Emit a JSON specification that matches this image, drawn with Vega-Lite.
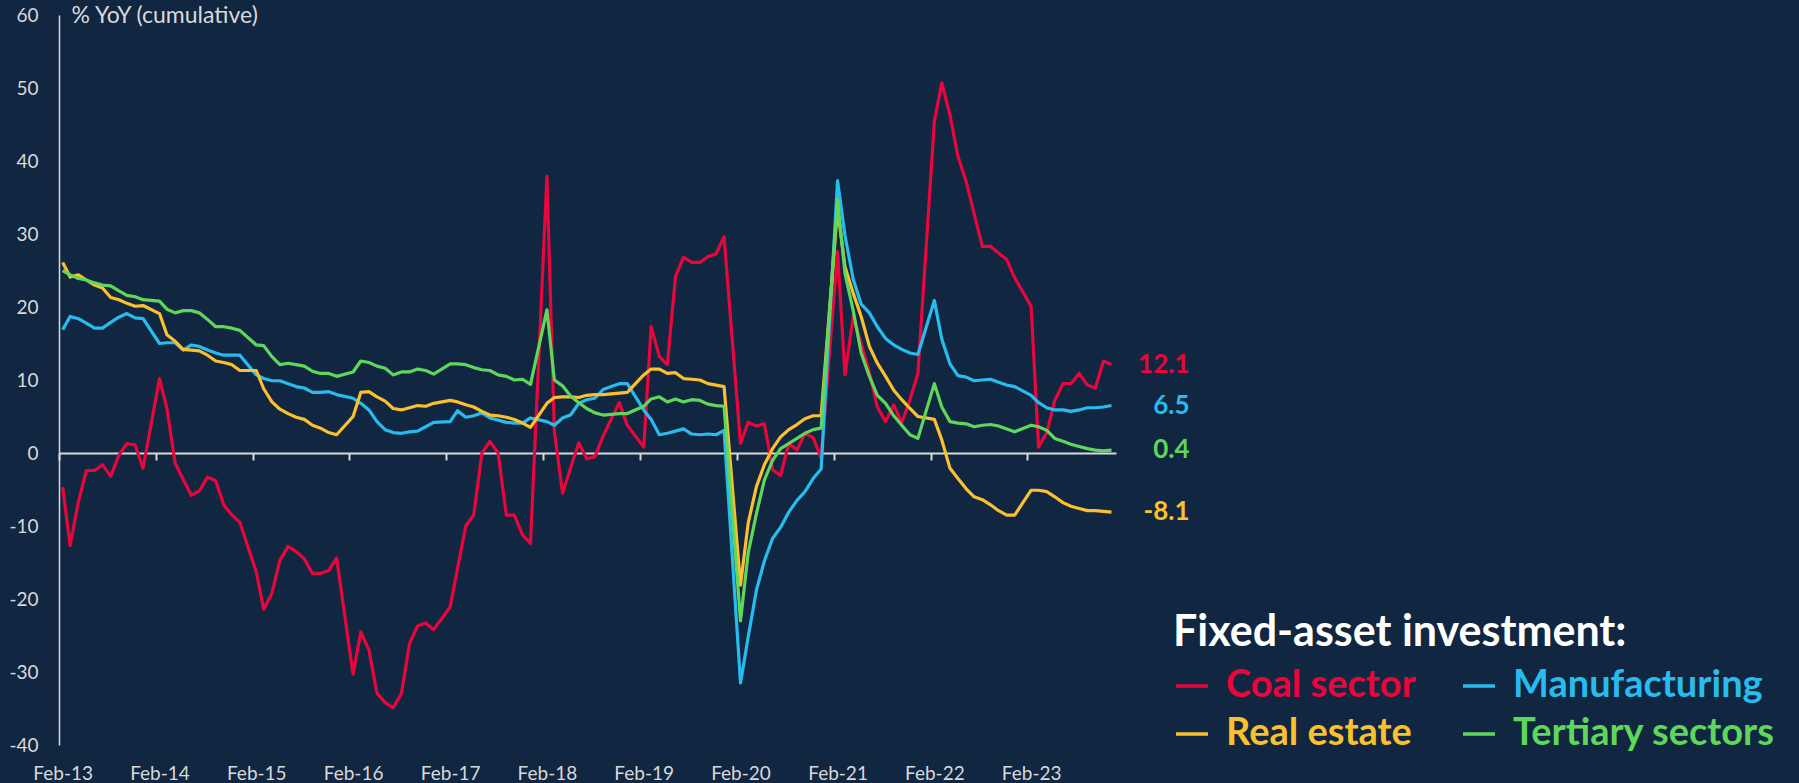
{
  "$schema": "https://vega.github.io/schema/vega-lite/v6.json",
  "width": 1057,
  "height": 730,
  "autosize": {"type": "none"},
  "padding": {"left": 59, "top": 15, "right": 683, "bottom": 38},
  "background": "#112640",
  "config": {"view": {"stroke": null}, "font": "Lato"},
  "data": {"values": [
    {"date": "2013-02-15", "Coal sector": -4.7, "Manufacturing": 16.9, "Real estate": 26.1, "Tertiary sectors": 25.0},
    {"date": "2013-03-15", "Coal sector": -12.7, "Manufacturing": 18.7, "Real estate": 24.1, "Tertiary sectors": 24.4},
    {"date": "2013-04-15", "Coal sector": -6.7, "Manufacturing": 18.4, "Real estate": 24.4, "Tertiary sectors": 23.9},
    {"date": "2013-05-15", "Coal sector": -2.4, "Manufacturing": 17.8, "Real estate": 23.7, "Tertiary sectors": 23.7},
    {"date": "2013-06-15", "Coal sector": -2.4, "Manufacturing": 17.1, "Real estate": 23.0, "Tertiary sectors": 23.3},
    {"date": "2013-07-15", "Coal sector": -1.6, "Manufacturing": 17.1, "Real estate": 22.6, "Tertiary sectors": 23.0},
    {"date": "2013-08-15", "Coal sector": -3.2, "Manufacturing": 17.9, "Real estate": 21.3, "Tertiary sectors": 22.9},
    {"date": "2013-09-15", "Coal sector": -0.3, "Manufacturing": 18.6, "Real estate": 21.0, "Tertiary sectors": 22.2},
    {"date": "2013-10-15", "Coal sector": 1.3, "Manufacturing": 19.1, "Real estate": 20.5, "Tertiary sectors": 21.6},
    {"date": "2013-11-15", "Coal sector": 1.1, "Manufacturing": 18.5, "Real estate": 20.1, "Tertiary sectors": 21.4},
    {"date": "2013-12-15", "Coal sector": -2.1, "Manufacturing": 18.4, "Real estate": 20.2, "Tertiary sectors": 21.0},
    {"date": "2014-02-15", "Coal sector": 10.2, "Manufacturing": 15.0, "Real estate": 19.1, "Tertiary sectors": 20.8},
    {"date": "2014-03-15", "Coal sector": 6.1, "Manufacturing": 15.1, "Real estate": 16.2, "Tertiary sectors": 19.7},
    {"date": "2014-04-15", "Coal sector": -1.4, "Manufacturing": 15.1, "Real estate": 15.3, "Tertiary sectors": 19.2},
    {"date": "2014-05-15", "Coal sector": -3.6, "Manufacturing": 14.1, "Real estate": 14.2, "Tertiary sectors": 19.5},
    {"date": "2014-06-15", "Coal sector": -5.8, "Manufacturing": 14.8, "Real estate": 14.1, "Tertiary sectors": 19.5},
    {"date": "2014-07-15", "Coal sector": -5.2, "Manufacturing": 14.6, "Real estate": 14.0, "Tertiary sectors": 19.2},
    {"date": "2014-08-15", "Coal sector": -3.3, "Manufacturing": 14.1, "Real estate": 13.4, "Tertiary sectors": 18.3},
    {"date": "2014-09-15", "Coal sector": -3.8, "Manufacturing": 13.7, "Real estate": 12.6, "Tertiary sectors": 17.3},
    {"date": "2014-10-15", "Coal sector": -7.1, "Manufacturing": 13.4, "Real estate": 12.4, "Tertiary sectors": 17.3},
    {"date": "2014-11-15", "Coal sector": -8.5, "Manufacturing": 13.4, "Real estate": 12.1, "Tertiary sectors": 17.1},
    {"date": "2014-12-15", "Coal sector": -9.5, "Manufacturing": 13.4, "Real estate": 11.3, "Tertiary sectors": 16.8},
    {"date": "2015-02-15", "Coal sector": -16.3, "Manufacturing": 10.7, "Real estate": 11.3, "Tertiary sectors": 14.8},
    {"date": "2015-03-15", "Coal sector": -21.4, "Manufacturing": 10.2, "Real estate": 8.8, "Tertiary sectors": 14.7},
    {"date": "2015-04-15", "Coal sector": -19.2, "Manufacturing": 9.9, "Real estate": 7.0, "Tertiary sectors": 13.2},
    {"date": "2015-05-15", "Coal sector": -14.7, "Manufacturing": 9.9, "Real estate": 6.0, "Tertiary sectors": 12.1},
    {"date": "2015-06-15", "Coal sector": -12.8, "Manufacturing": 9.5, "Real estate": 5.4, "Tertiary sectors": 12.3},
    {"date": "2015-07-15", "Coal sector": -13.5, "Manufacturing": 9.1, "Real estate": 4.9, "Tertiary sectors": 12.1},
    {"date": "2015-08-15", "Coal sector": -14.5, "Manufacturing": 8.9, "Real estate": 4.6, "Tertiary sectors": 11.9},
    {"date": "2015-09-15", "Coal sector": -16.5, "Manufacturing": 8.3, "Real estate": 3.8, "Tertiary sectors": 11.2},
    {"date": "2015-10-15", "Coal sector": -16.5, "Manufacturing": 8.3, "Real estate": 3.4, "Tertiary sectors": 10.9},
    {"date": "2015-11-15", "Coal sector": -16.1, "Manufacturing": 8.4, "Real estate": 2.8, "Tertiary sectors": 10.9},
    {"date": "2015-12-15", "Coal sector": -14.4, "Manufacturing": 8.0, "Real estate": 2.5, "Tertiary sectors": 10.5},
    {"date": "2016-02-15", "Coal sector": -30.3, "Manufacturing": 7.5, "Real estate": 5.0, "Tertiary sectors": 11.1},
    {"date": "2016-03-15", "Coal sector": -24.5, "Manufacturing": 6.8, "Real estate": 8.3, "Tertiary sectors": 12.6},
    {"date": "2016-04-15", "Coal sector": -27.0, "Manufacturing": 5.9, "Real estate": 8.4, "Tertiary sectors": 12.4},
    {"date": "2016-05-15", "Coal sector": -32.9, "Manufacturing": 4.3, "Real estate": 7.7, "Tertiary sectors": 11.9},
    {"date": "2016-06-15", "Coal sector": -34.2, "Manufacturing": 3.2, "Real estate": 7.1, "Tertiary sectors": 11.6},
    {"date": "2016-07-15", "Coal sector": -34.9, "Manufacturing": 2.8, "Real estate": 6.1, "Tertiary sectors": 10.7},
    {"date": "2016-08-15", "Coal sector": -33.0, "Manufacturing": 2.7, "Real estate": 5.9, "Tertiary sectors": 11.1},
    {"date": "2016-09-15", "Coal sector": -26.1, "Manufacturing": 2.9, "Real estate": 6.2, "Tertiary sectors": 11.1},
    {"date": "2016-10-15", "Coal sector": -23.7, "Manufacturing": 3.0, "Real estate": 6.5, "Tertiary sectors": 11.5},
    {"date": "2016-11-15", "Coal sector": -23.3, "Manufacturing": 3.6, "Real estate": 6.4, "Tertiary sectors": 11.3},
    {"date": "2016-12-15", "Coal sector": -24.2, "Manufacturing": 4.2, "Real estate": 6.8, "Tertiary sectors": 10.8},
    {"date": "2017-02-15", "Coal sector": -21.1, "Manufacturing": 4.3, "Real estate": 7.2, "Tertiary sectors": 12.2},
    {"date": "2017-03-15", "Coal sector": -15.8, "Manufacturing": 5.8, "Real estate": 7.0, "Tertiary sectors": 12.2},
    {"date": "2017-04-15", "Coal sector": -10.0, "Manufacturing": 4.9, "Real estate": 6.6, "Tertiary sectors": 12.1},
    {"date": "2017-05-15", "Coal sector": -8.5, "Manufacturing": 5.1, "Real estate": 6.3, "Tertiary sectors": 11.7},
    {"date": "2017-06-15", "Coal sector": 0.0, "Manufacturing": 5.5, "Real estate": 5.7, "Tertiary sectors": 11.4},
    {"date": "2017-07-15", "Coal sector": 1.6, "Manufacturing": 4.8, "Real estate": 5.2, "Tertiary sectors": 11.3},
    {"date": "2017-08-15", "Coal sector": 0.0, "Manufacturing": 4.5, "Real estate": 5.1, "Tertiary sectors": 10.7},
    {"date": "2017-09-15", "Coal sector": -8.5, "Manufacturing": 4.2, "Real estate": 4.9, "Tertiary sectors": 10.5},
    {"date": "2017-10-15", "Coal sector": -8.5, "Manufacturing": 4.1, "Real estate": 4.6, "Tertiary sectors": 10.0},
    {"date": "2017-11-15", "Coal sector": -11.2, "Manufacturing": 4.1, "Real estate": 4.1, "Tertiary sectors": 10.1},
    {"date": "2017-12-15", "Coal sector": -12.4, "Manufacturing": 4.8, "Real estate": 3.5, "Tertiary sectors": 9.4},
    {"date": "2018-02-15", "Coal sector": 37.9, "Manufacturing": 4.3, "Real estate": 6.8, "Tertiary sectors": 19.6},
    {"date": "2018-03-15", "Coal sector": 3.0, "Manufacturing": 3.8, "Real estate": 7.6, "Tertiary sectors": 10.0},
    {"date": "2018-04-15", "Coal sector": -5.5, "Manufacturing": 4.8, "Real estate": 7.7, "Tertiary sectors": 9.2},
    {"date": "2018-05-15", "Coal sector": -2.1, "Manufacturing": 5.2, "Real estate": 7.7, "Tertiary sectors": 7.8},
    {"date": "2018-06-15", "Coal sector": 1.4, "Manufacturing": 6.8, "Real estate": 7.6, "Tertiary sectors": 6.9},
    {"date": "2018-07-15", "Coal sector": -0.8, "Manufacturing": 7.3, "Real estate": 7.9, "Tertiary sectors": 6.1},
    {"date": "2018-08-15", "Coal sector": -0.5, "Manufacturing": 7.5, "Real estate": 8.0, "Tertiary sectors": 5.5},
    {"date": "2018-09-15", "Coal sector": 2.3, "Manufacturing": 8.7, "Real estate": 8.0, "Tertiary sectors": 5.2},
    {"date": "2018-10-15", "Coal sector": 4.6, "Manufacturing": 9.1, "Real estate": 8.1, "Tertiary sectors": 5.3},
    {"date": "2018-11-15", "Coal sector": 6.9, "Manufacturing": 9.5, "Real estate": 8.2, "Tertiary sectors": 5.4},
    {"date": "2018-12-15", "Coal sector": 3.8, "Manufacturing": 9.5, "Real estate": 8.3, "Tertiary sectors": 5.4},
    {"date": "2019-02-15", "Coal sector": 0.8, "Manufacturing": 5.9, "Real estate": 10.7, "Tertiary sectors": 6.4},
    {"date": "2019-03-15", "Coal sector": 17.3, "Manufacturing": 4.6, "Real estate": 11.5, "Tertiary sectors": 7.4},
    {"date": "2019-04-15", "Coal sector": 13.2, "Manufacturing": 2.5, "Real estate": 11.5, "Tertiary sectors": 7.7},
    {"date": "2019-05-15", "Coal sector": 12.1, "Manufacturing": 2.7, "Real estate": 10.9, "Tertiary sectors": 7.0},
    {"date": "2019-06-15", "Coal sector": 24.2, "Manufacturing": 3.0, "Real estate": 11.0, "Tertiary sectors": 7.4},
    {"date": "2019-07-15", "Coal sector": 26.8, "Manufacturing": 3.3, "Real estate": 10.2, "Tertiary sectors": 7.0},
    {"date": "2019-08-15", "Coal sector": 26.1, "Manufacturing": 2.6, "Real estate": 10.1, "Tertiary sectors": 7.3},
    {"date": "2019-09-15", "Coal sector": 26.1, "Manufacturing": 2.5, "Real estate": 10.0, "Tertiary sectors": 7.2},
    {"date": "2019-10-15", "Coal sector": 26.9, "Manufacturing": 2.6, "Real estate": 9.5, "Tertiary sectors": 6.7},
    {"date": "2019-11-15", "Coal sector": 27.3, "Manufacturing": 2.5, "Real estate": 9.3, "Tertiary sectors": 6.5},
    {"date": "2019-12-15", "Coal sector": 29.6, "Manufacturing": 3.1, "Real estate": 9.1, "Tertiary sectors": 6.4},
    {"date": "2020-02-15", "Coal sector": 1.3, "Manufacturing": -31.5, "Real estate": -18.1, "Tertiary sectors": -23.0},
    {"date": "2020-03-15", "Coal sector": 4.2, "Manufacturing": -25.2, "Real estate": -9.6, "Tertiary sectors": -13.7},
    {"date": "2020-04-15", "Coal sector": 3.7, "Manufacturing": -18.8, "Real estate": -4.6, "Tertiary sectors": -8.3},
    {"date": "2020-05-15", "Coal sector": 4.0, "Manufacturing": -14.8, "Real estate": -1.6, "Tertiary sectors": -3.7},
    {"date": "2020-06-15", "Coal sector": -2.3, "Manufacturing": -11.7, "Real estate": 0.6, "Tertiary sectors": -1.0},
    {"date": "2020-07-15", "Coal sector": -3.1, "Manufacturing": -10.2, "Real estate": 2.2, "Tertiary sectors": 0.6},
    {"date": "2020-08-15", "Coal sector": 1.3, "Manufacturing": -8.1, "Real estate": 3.2, "Tertiary sectors": 1.3},
    {"date": "2020-09-15", "Coal sector": 0.4, "Manufacturing": -6.5, "Real estate": 3.9, "Tertiary sectors": 2.0},
    {"date": "2020-10-15", "Coal sector": 2.7, "Manufacturing": -5.3, "Real estate": 4.7, "Tertiary sectors": 2.7},
    {"date": "2020-11-15", "Coal sector": 2.1, "Manufacturing": -3.5, "Real estate": 5.1, "Tertiary sectors": 3.2},
    {"date": "2020-12-15", "Coal sector": -0.7, "Manufacturing": -2.2, "Real estate": 5.1, "Tertiary sectors": 3.4},
    {"date": "2021-02-15", "Coal sector": 27.6, "Manufacturing": 37.3, "Real estate": 33.5, "Tertiary sectors": 34.7},
    {"date": "2021-03-15", "Coal sector": 10.7, "Manufacturing": 29.8, "Real estate": 25.5, "Tertiary sectors": 24.6},
    {"date": "2021-04-15", "Coal sector": 18.7, "Manufacturing": 23.8, "Real estate": 21.9, "Tertiary sectors": 19.5},
    {"date": "2021-05-15", "Coal sector": 15.0, "Manufacturing": 20.4, "Real estate": 18.7, "Tertiary sectors": 13.7},
    {"date": "2021-06-15", "Coal sector": 11.0, "Manufacturing": 19.2, "Real estate": 14.6, "Tertiary sectors": 10.5},
    {"date": "2021-07-15", "Coal sector": 6.3, "Manufacturing": 17.3, "Real estate": 12.3, "Tertiary sectors": 7.9},
    {"date": "2021-08-15", "Coal sector": 4.3, "Manufacturing": 15.7, "Real estate": 10.5, "Tertiary sectors": 6.8},
    {"date": "2021-09-15", "Coal sector": 6.6, "Manufacturing": 14.8, "Real estate": 8.6, "Tertiary sectors": 5.1},
    {"date": "2021-10-15", "Coal sector": 4.1, "Manufacturing": 14.2, "Real estate": 7.3, "Tertiary sectors": 3.8},
    {"date": "2021-11-15", "Coal sector": 7.3, "Manufacturing": 13.7, "Real estate": 6.1, "Tertiary sectors": 2.5},
    {"date": "2021-12-15", "Coal sector": 10.9, "Manufacturing": 13.5, "Real estate": 5.0, "Tertiary sectors": 2.0},
    {"date": "2022-02-15", "Coal sector": 45.4, "Manufacturing": 20.9, "Real estate": 4.6, "Tertiary sectors": 9.5},
    {"date": "2022-03-15", "Coal sector": 50.7, "Manufacturing": 15.6, "Real estate": 1.8, "Tertiary sectors": 6.3},
    {"date": "2022-04-15", "Coal sector": 46.3, "Manufacturing": 12.2, "Real estate": -2.1, "Tertiary sectors": 4.3},
    {"date": "2022-05-15", "Coal sector": 40.6, "Manufacturing": 10.6, "Real estate": -3.5, "Tertiary sectors": 4.1},
    {"date": "2022-06-15", "Coal sector": 37.2, "Manufacturing": 10.4, "Real estate": -4.9, "Tertiary sectors": 4.0},
    {"date": "2022-07-15", "Coal sector": 32.8, "Manufacturing": 9.9, "Real estate": -6.0, "Tertiary sectors": 3.6},
    {"date": "2022-08-15", "Coal sector": 28.3, "Manufacturing": 10.0, "Real estate": -6.4, "Tertiary sectors": 3.8},
    {"date": "2022-09-15", "Coal sector": 28.3, "Manufacturing": 10.1, "Real estate": -7.1, "Tertiary sectors": 3.9},
    {"date": "2022-10-15", "Coal sector": 27.4, "Manufacturing": 9.7, "Real estate": -7.9, "Tertiary sectors": 3.7},
    {"date": "2022-11-15", "Coal sector": 26.5, "Manufacturing": 9.3, "Real estate": -8.5, "Tertiary sectors": 3.3},
    {"date": "2022-12-15", "Coal sector": 24.0, "Manufacturing": 9.1, "Real estate": -8.5, "Tertiary sectors": 2.9},
    {"date": "2023-02-15", "Coal sector": 20.1, "Manufacturing": 7.9, "Real estate": -5.1, "Tertiary sectors": 3.8},
    {"date": "2023-03-15", "Coal sector": 0.8, "Manufacturing": 6.9, "Real estate": -5.1, "Tertiary sectors": 3.6},
    {"date": "2023-04-15", "Coal sector": 2.8, "Manufacturing": 6.2, "Real estate": -5.3, "Tertiary sectors": 3.1},
    {"date": "2023-05-15", "Coal sector": 7.2, "Manufacturing": 5.9, "Real estate": -6.0, "Tertiary sectors": 2.0},
    {"date": "2023-06-15", "Coal sector": 9.5, "Manufacturing": 5.9, "Real estate": -6.8, "Tertiary sectors": 1.6},
    {"date": "2023-07-15", "Coal sector": 9.5, "Manufacturing": 5.7, "Real estate": -7.3, "Tertiary sectors": 1.2},
    {"date": "2023-08-15", "Coal sector": 10.9, "Manufacturing": 5.9, "Real estate": -7.6, "Tertiary sectors": 0.9},
    {"date": "2023-09-15", "Coal sector": 9.3, "Manufacturing": 6.2, "Real estate": -7.9, "Tertiary sectors": 0.6},
    {"date": "2023-10-15", "Coal sector": 8.9, "Manufacturing": 6.2, "Real estate": -7.9, "Tertiary sectors": 0.4},
    {"date": "2023-11-15", "Coal sector": 12.6, "Manufacturing": 6.3, "Real estate": -8.0, "Tertiary sectors": 0.3},
    {"date": "2023-12-15", "Coal sector": 12.1, "Manufacturing": 6.5, "Real estate": -8.1, "Tertiary sectors": 0.4}
  ]},
  "transform": [
    {"fold": ["Coal sector", "Manufacturing", "Real estate", "Tertiary sectors"], "as": ["series", "value"]}
  ],
  "encoding": {
    "y": {
      "field": "value", "type": "quantitative",
      "scale": {"domain": [-40, 60], "nice": false, "zero": false},
      "axis": {
        "values": [-40, -30, -20, -10, 0, 10, 20, 30, 40, 50, 60],
        "labelExpr": "'' + datum.value",
        "grid": false, "ticks": false, "tickSize": 0,
        "domain": true, "domainColor": "#d9d9d9", "domainWidth": 1.5,
        "labelColor": "#d9d9d9", "labelFontSize": 19, "labelPadding": 21, "labelFont": "Lato",
        "title": "% YoY (cumulative)", "titleAngle": 0, "titleAlign": "left", "titleBaseline": "middle",
        "titleX": 12, "titleY": 0, "titleFontSize": 23, "titleFontWeight": "normal", "titleColor": "#d9d9d9", "titleFont": "Lato"
      }
    },
    "color": {
      "field": "series", "type": "nominal",
      "scale": {
        "domain": ["Coal sector", "Manufacturing", "Real estate", "Tertiary sectors"],
        "range": ["#e8063c", "#28bcee", "#fbc02d", "#5fd75a"]
      },
      "legend": {
        "orient": "none", "legendX": 1114, "legendY": 597, "direction": "horizontal",
        "columns": 2, "columnPadding": 40, "rowPadding": 10, "padding": 0,
        "title": "Fixed-asset investment:", "titleFontSize": 43, "titleFontWeight": "bold",
        "titleColor": "#ffffff", "titleFont": "Lato", "titlePadding": 12, "titleLimit": 700,
        "labelFontSize": 38, "labelFontWeight": "bold", "labelFont": "Lato", "labelOffset": 15, "labelLimit": 400,
        "symbolType": "stroke", "symbolSize": 1024, "symbolStrokeWidth": 3.5,
        "encode": {"labels": {"update": {"fill": {"scale": "color", "field": "value"}}}}
      }
    }
  },
  "layer": [
    {
      "mark": {"type": "line", "strokeWidth": 3.2, "strokeJoin": "round"},
      "encoding": {
        "x": {
          "field": "date", "type": "temporal",
          "scale": {"type": "utc", "domain": [{"year": 2013, "month": 2, "date": 1, "utc": true}, {"year": 2024, "month": 1, "date": 1, "utc": true}]},
          "axis": {
            "orient": "bottom", "domain": false, "ticks": false, "tickSize": 0, "grid": false,
            "values": [
              {"year": 2013, "month": 2, "date": 15, "utc": true}, {"year": 2014, "month": 2, "date": 15, "utc": true},
              {"year": 2015, "month": 2, "date": 15, "utc": true}, {"year": 2016, "month": 2, "date": 15, "utc": true},
              {"year": 2017, "month": 2, "date": 15, "utc": true}, {"year": 2018, "month": 2, "date": 15, "utc": true},
              {"year": 2019, "month": 2, "date": 15, "utc": true}, {"year": 2020, "month": 2, "date": 15, "utc": true},
              {"year": 2021, "month": 2, "date": 15, "utc": true}, {"year": 2022, "month": 2, "date": 15, "utc": true},
              {"year": 2023, "month": 2, "date": 15, "utc": true}
            ],
            "format": "%b-%y", "labelColor": "#d9d9d9", "labelFontSize": 19, "labelFont": "Lato",
            "labelPadding": 19, "labelFlush": false, "labelOverlap": false, "title": null
          }
        }
      }
    },
    {
      "transform": [{"filter": "utcyear(datum.date) == 2023 && utcmonth(datum.date) == 11"}],
      "mark": {"type": "text", "align": "right", "baseline": "middle", "dx": 78, "fontSize": 26, "fontWeight": "bold", "font": "Lato"},
      "encoding": {
        "x": {
          "field": "date", "type": "temporal",
          "axis": {
            "orient": "top", "offset": -438, "labels": false, "grid": false,
            "domain": true, "domainColor": "#d9d9d9", "domainWidth": 2,
            "ticks": true, "tickSize": -7, "tickWidth": 2, "tickColor": "#d9d9d9",
            "values": [
              {"year": 2013, "month": 2, "date": 1, "utc": true}, {"year": 2014, "month": 2, "date": 1, "utc": true},
              {"year": 2015, "month": 2, "date": 1, "utc": true}, {"year": 2016, "month": 2, "date": 1, "utc": true},
              {"year": 2017, "month": 2, "date": 1, "utc": true}, {"year": 2018, "month": 2, "date": 1, "utc": true},
              {"year": 2019, "month": 2, "date": 1, "utc": true}, {"year": 2020, "month": 2, "date": 1, "utc": true},
              {"year": 2021, "month": 2, "date": 1, "utc": true}, {"year": 2022, "month": 2, "date": 1, "utc": true},
              {"year": 2023, "month": 2, "date": 1, "utc": true}
            ],
            "title": null
          }
        },
        "text": {"field": "value", "type": "nominal"}
      }
    }
  ],
  "resolve": {"axis": {"x": "independent"}}
}
